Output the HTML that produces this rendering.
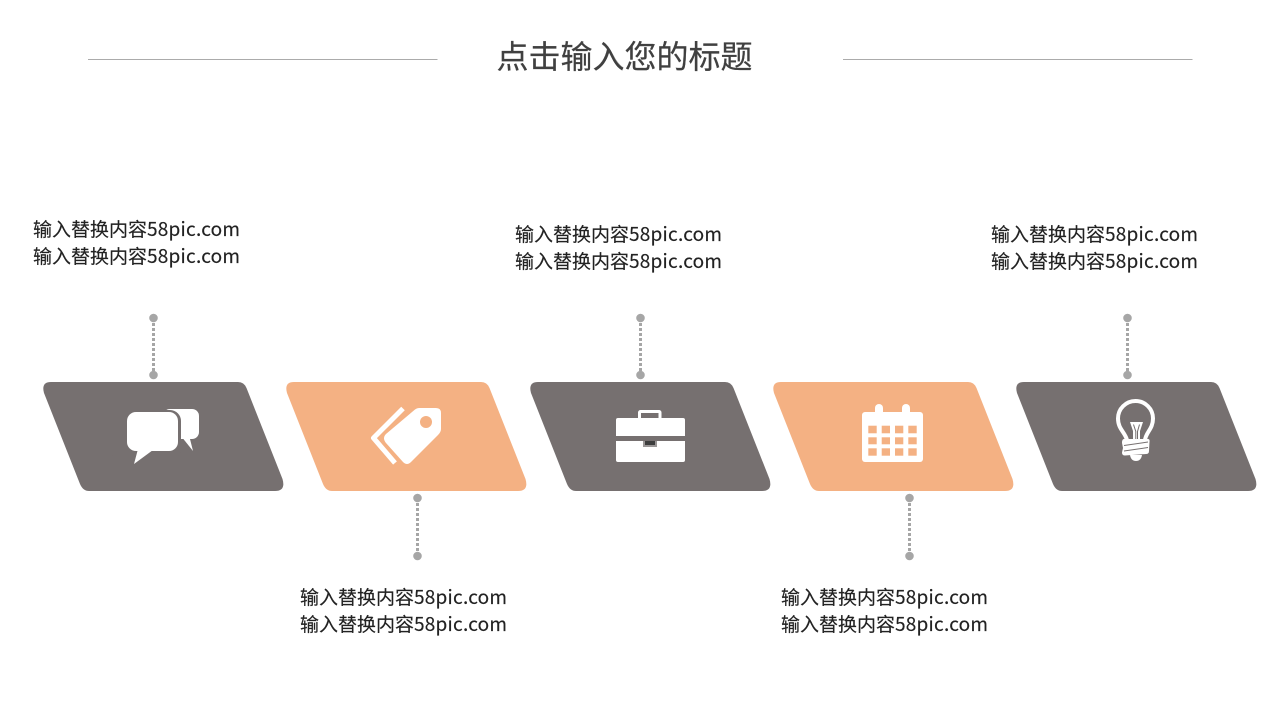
<!DOCTYPE html>
<html><head><meta charset="utf-8"><style>
html,body{margin:0;padding:0;background:#fff;width:1280px;height:720px;overflow:hidden}
svg{display:block}
text{font-family:"Liberation Sans","Noto Sans CJK SC",sans-serif}
.l{font-family:"Noto Sans CJK SC",sans-serif;font-size:19px;fill:#222;stroke:#222;stroke-width:.15}
.c{stroke:#a6a6a6;stroke-width:3;stroke-dasharray:3 2;fill:none}
.d{fill:#a6a6a6}
</style></head><body>
<svg width="1280" height="720" viewBox="0 0 1280 720" xmlns="http://www.w3.org/2000/svg">
<rect width="1280" height="720" fill="#fff"/>
<line x1="88" y1="59.5" x2="437.500" y2="59.5" stroke="#ababab"/>
<line x1="843" y1="59.5" x2="1192.500" y2="59.5" stroke="#ababab"/>
<text x="496.500" y="68" font-size="32" fill="#404040" stroke="#404040" stroke-width=".2" style="font-family:'Noto Sans CJK SC',sans-serif">点击输入您的标题</text>

<g id="shapes">
<path transform="translate(43,0)" fill="#767070" d="M8,382H195Q201,382 203.500,388L239.500,479Q243,491 232,491H46Q40,491 37,484L1,393Q-2,382 8,382Z"/>
<path transform="translate(286,0)" fill="#f4b183" d="M8,382H195Q201,382 203.500,388L239.500,479Q243,491 232,491H46Q40,491 37,484L1,393Q-2,382 8,382Z"/>
<path transform="translate(530,0)" fill="#767070" d="M8,382H195Q201,382 203.500,388L239.500,479Q243,491 232,491H46Q40,491 37,484L1,393Q-2,382 8,382Z"/>
<path transform="translate(773,0)" fill="#f4b183" d="M8,382H195Q201,382 203.500,388L239.500,479Q243,491 232,491H46Q40,491 37,484L1,393Q-2,382 8,382Z"/>
<path transform="translate(1016,0)" fill="#767070" d="M8,382H195Q201,382 203.500,388L239.500,479Q243,491 232,491H46Q40,491 37,484L1,393Q-2,382 8,382Z"/>
</g>

<!-- connectors -->
<g>
<line class="c" x1="153.5" y1="318" x2="153.5" y2="375"/><circle class="d" cx="153.5" cy="318" r="4.300"/><circle class="d" cx="153.5" cy="375" r="4.300"/>
<line class="c" x1="640.5" y1="318" x2="640.5" y2="375"/><circle class="d" cx="640.5" cy="318" r="4.300"/><circle class="d" cx="640.5" cy="375" r="4.300"/>
<line class="c" x1="1127.5" y1="318" x2="1127.5" y2="375"/><circle class="d" cx="1127.5" cy="318" r="4.300"/><circle class="d" cx="1127.5" cy="375" r="4.300"/>
<line class="c" x1="417.5" y1="498" x2="417.5" y2="556"/><circle class="d" cx="417.5" cy="498" r="4.300"/><circle class="d" cx="417.5" cy="556" r="4.300"/>
<line class="c" x1="909.5" y1="498" x2="909.5" y2="556"/><circle class="d" cx="909.5" cy="498" r="4.300"/><circle class="d" cx="909.5" cy="556" r="4.300"/>
</g>

<!-- chat icon -->
<rect x="163" y="409" width="36" height="30" rx="7" fill="#fff"/>
<rect x="110" y="410" width="71" height="50" rx="11" fill="#767070"/>
<polygon points="181,436 193,451 189.5,437" fill="#fff"/>
<rect x="127" y="412" width="51" height="39" rx="9" fill="#fff"/>
<polygon points="138,449 134,464 153,450" fill="#fff"/>

<!-- tag icon -->
<polyline points="403,408.500 373.500,438 395,463" fill="none" stroke="#fff" stroke-width="5" stroke-linejoin="round"/>
<path d="M419,408H436Q441,408 441,413V429Q441,432 438,435L411,462Q407,466 403,462L386,443Q382,438 386,434L415,409.500Q417,408 419,408Z" fill="#fff"/>
<circle cx="426" cy="422" r="6" fill="#f4b183"/>

<!-- briefcase icon -->
<rect x="639.500" y="411.500" width="20.500" height="8" rx="1" fill="none" stroke="#fff" stroke-width="3"/>
<path d="M618,418H683Q685,418 685,420V436H616V420Q616,418 618,418Z" fill="#fff"/>
<path d="M616,441H685V460Q685,462 683,462H618Q616,462 616,460Z" fill="#fff"/>
<rect x="643" y="441" width="14" height="6" fill="#9a9696"/>
<rect x="645" y="441" width="10" height="4" fill="#3d3d3d"/>

<!-- calendar icon -->
<rect x="875" y="404" width="8" height="14" rx="4" fill="#fff"/>
<rect x="902" y="404" width="8" height="14" rx="4" fill="#fff"/>
<rect x="862" y="412" width="61" height="50" rx="3" fill="#fff"/>
<g fill="#f4b183">
<rect x="868.300" y="425.700" width="8.400" height="7.600"/><rect x="881.700" y="425.700" width="8.300" height="7.600"/><rect x="895" y="425.700" width="8.300" height="7.600"/><rect x="908.300" y="425.700" width="8.400" height="7.600"/>
<rect x="868.300" y="437.300" width="8.400" height="7"/><rect x="881.700" y="437.300" width="8.300" height="7"/><rect x="895" y="437.300" width="8.300" height="7"/><rect x="908.300" y="437.300" width="8.400" height="7"/>
<rect x="868.300" y="448.300" width="8.400" height="7.400"/><rect x="881.700" y="448.300" width="8.300" height="7.400"/><rect x="895" y="448.300" width="8.300" height="7.400"/><rect x="908.300" y="448.300" width="8.400" height="7.400"/>
</g>

<!-- bulb icon -->
<path d="M1127,440C1125,432 1118,429 1118,418.500A17.500,17.500 0 1 1 1153,418.500C1153,429 1146,432 1145,440" fill="none" stroke="#fff" stroke-width="4"/>
<path d="M1130,422H1143L1140,431V440H1133V431Z" fill="#fff"/>
<path d="M1133.500,424.500L1135.800,431.500V440M1139.500,424.500L1137.500,431.500V440" fill="none" stroke="#767070" stroke-width="1"/>
<path d="M1124,439H1148Q1150,439 1149.500,442L1149,451Q1149,454 1146,454L1125,455.500Q1122,455.500 1122,452.500L1123,448L1122,443Q1122,439 1124,439Z" fill="#fff"/>
<path d="M1124,445.500L1148,442M1124,451L1148,447.500" stroke="#767070" stroke-width="1"/>
<path d="M1130,455H1142Q1141,461 1136,461Q1131,461 1130,455Z" fill="#fff"/>

<!-- labels -->
<text class="l" x="33" y="236">输入替换内容<tspan textLength="93" lengthAdjust="spacing">58pic.com</tspan></text>
<text class="l" x="33" y="263">输入替换内容<tspan textLength="93" lengthAdjust="spacing">58pic.com</tspan></text>
<text class="l" x="515" y="241">输入替换内容<tspan textLength="93" lengthAdjust="spacing">58pic.com</tspan></text>
<text class="l" x="515" y="268">输入替换内容<tspan textLength="93" lengthAdjust="spacing">58pic.com</tspan></text>
<text class="l" x="991" y="241">输入替换内容<tspan textLength="93" lengthAdjust="spacing">58pic.com</tspan></text>
<text class="l" x="991" y="268">输入替换内容<tspan textLength="93" lengthAdjust="spacing">58pic.com</tspan></text>
<text class="l" x="300" y="604">输入替换内容<tspan textLength="93" lengthAdjust="spacing">58pic.com</tspan></text>
<text class="l" x="300" y="631">输入替换内容<tspan textLength="93" lengthAdjust="spacing">58pic.com</tspan></text>
<text class="l" x="781" y="604">输入替换内容<tspan textLength="93" lengthAdjust="spacing">58pic.com</tspan></text>
<text class="l" x="781" y="631">输入替换内容<tspan textLength="93" lengthAdjust="spacing">58pic.com</tspan></text>
</svg>
</body></html>
